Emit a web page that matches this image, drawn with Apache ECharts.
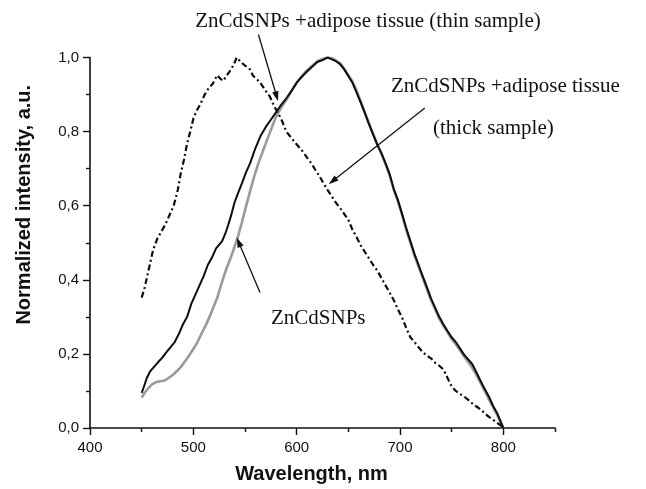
<!DOCTYPE html>
<html>
<head>
<meta charset="utf-8">
<script src="https://cdn.jsdelivr.net/npm/echarts@6/dist/echarts.min.js"></script>
<style>
  html, body { margin: 0; padding: 0; background: #fff; }
  #chart { width: 646px; height: 489px; }
</style>
</head>
<body>
<div id="chart"></div>
<script>
// Axis ticks
const xMajorTicks = [400, 500, 600, 700, 800];
const xMinorTicks = [450, 550, 650, 750, 850];
const yTicks = [0, 0.2, 0.4, 0.6, 0.8, 1.0];

// ZnCdSNPs (grey solid)
const bareWavelength = [450, 453, 456, 460, 464, 468, 472, 476, 480, 484, 488, 492, 496, 500, 504, 508, 512, 516, 520, 523, 526, 529, 532, 536, 540, 543, 547, 551, 555, 559, 563, 567, 571, 575, 580, 585, 590, 595, 600, 605, 610, 615, 620, 625, 630, 634, 638, 642, 646, 650, 654, 658, 662, 666, 670, 674, 678, 682, 686, 690, 694, 698, 702, 706, 710, 714, 718, 722, 726, 730, 734, 738, 742, 746, 750, 754, 758, 762, 766, 770, 774, 778, 782, 786, 790, 794, 797, 800];
const bareIntensity = [0.082, 0.095, 0.106, 0.118, 0.124, 0.126, 0.128, 0.135, 0.143, 0.153, 0.165, 0.180, 0.196, 0.213, 0.232, 0.255, 0.277, 0.302, 0.330, 0.350, 0.378, 0.405, 0.430, 0.458, 0.490, 0.515, 0.555, 0.598, 0.640, 0.680, 0.715, 0.745, 0.775, 0.804, 0.840, 0.865, 0.885, 0.910, 0.932, 0.950, 0.965, 0.978, 0.990, 0.996, 1.000, 0.998, 0.992, 0.984, 0.970, 0.952, 0.935, 0.910, 0.882, 0.852, 0.822, 0.794, 0.766, 0.740, 0.712, 0.682, 0.643, 0.612, 0.575, 0.535, 0.500, 0.465, 0.435, 0.405, 0.375, 0.345, 0.320, 0.295, 0.275, 0.258, 0.240, 0.226, 0.210, 0.193, 0.178, 0.162, 0.143, 0.122, 0.100, 0.078, 0.056, 0.036, 0.018, 0.000];

// ZnCdSNPs + adipose tissue, thin sample (black solid)
const thinWavelength = [450, 452, 455, 458, 462, 466, 470, 474, 478, 482, 486, 490, 494, 498, 502, 506, 510, 514, 518, 522, 526, 528, 531, 534, 537, 540, 543, 547, 551, 555, 560, 565, 570, 575, 580, 585, 590, 595, 600, 605, 610, 615, 620, 625, 630, 634, 638, 642, 646, 650, 654, 658, 662, 666, 670, 674, 678, 682, 686, 690, 694, 698, 702, 706, 710, 714, 718, 722, 726, 730, 734, 738, 742, 746, 750, 754, 758, 762, 766, 770, 774, 778, 782, 786, 790, 794, 797, 800];
const thinIntensity = [0.095, 0.110, 0.135, 0.152, 0.165, 0.178, 0.190, 0.205, 0.218, 0.232, 0.254, 0.280, 0.300, 0.335, 0.360, 0.385, 0.410, 0.440, 0.460, 0.485, 0.498, 0.505, 0.525, 0.550, 0.578, 0.610, 0.632, 0.660, 0.690, 0.715, 0.755, 0.788, 0.812, 0.832, 0.852, 0.872, 0.890, 0.910, 0.932, 0.948, 0.962, 0.975, 0.988, 0.993, 1.000, 0.995, 0.990, 0.982, 0.968, 0.950, 0.932, 0.905, 0.878, 0.850, 0.820, 0.792, 0.765, 0.742, 0.715, 0.685, 0.645, 0.615, 0.578, 0.540, 0.505, 0.470, 0.440, 0.410, 0.380, 0.350, 0.325, 0.300, 0.280, 0.262, 0.245, 0.232, 0.215, 0.198, 0.185, 0.172, 0.150, 0.127, 0.105, 0.085, 0.060, 0.040, 0.020, 0.000];

// ZnCdSNPs + adipose tissue, thick sample (black dash-dot)
const thickWavelength = [450, 453, 457, 461, 465, 469, 473, 477, 481, 485, 488, 491, 494, 497, 500, 503, 507, 511, 515, 519, 523, 526, 529, 532, 535, 539, 542, 546, 550, 554, 558, 562, 566, 570, 574, 578, 582, 586, 590, 594, 598, 602, 606, 610, 614, 618, 622, 626, 630, 634, 638, 642, 646, 650, 654, 658, 662, 666, 670, 674, 678, 682, 686, 690, 694, 698, 702, 706, 710, 714, 718, 722, 726, 730, 734, 738, 742, 746, 750, 754, 758, 762, 766, 770, 774, 778, 782, 786, 790, 794, 798, 800];
const thickIntensity = [0.352, 0.380, 0.430, 0.480, 0.510, 0.530, 0.550, 0.575, 0.600, 0.643, 0.690, 0.725, 0.768, 0.800, 0.835, 0.855, 0.875, 0.900, 0.918, 0.930, 0.952, 0.943, 0.937, 0.950, 0.962, 0.980, 1.000, 0.988, 0.978, 0.972, 0.950, 0.940, 0.927, 0.910, 0.895, 0.870, 0.850, 0.828, 0.800, 0.786, 0.772, 0.759, 0.746, 0.730, 0.715, 0.697, 0.680, 0.660, 0.642, 0.625, 0.608, 0.594, 0.578, 0.562, 0.535, 0.515, 0.493, 0.475, 0.458, 0.440, 0.425, 0.405, 0.385, 0.365, 0.345, 0.320, 0.298, 0.270, 0.245, 0.232, 0.218, 0.205, 0.195, 0.188, 0.176, 0.168, 0.158, 0.135, 0.112, 0.100, 0.092, 0.085, 0.076, 0.066, 0.058, 0.050, 0.040, 0.030, 0.022, 0.014, 0.006, 0.000];

// Annotation arrows: tip on a curve and tail near its caption, in (nm, intensity)
const arrowThin = { tip: [582, 0.882], tail: [563, 1.062] };
const arrowThick = { tip: [631, 0.658], tail: [724, 0.864] };
const arrowBare = { tip: [542, 0.514], tail: [564.5, 0.366] };

const zip = (xs, ys) => xs.map((x, i) => [x, ys[i]]);

const chart = echarts.init(document.getElementById('chart'), null, { renderer: 'canvas' });

const sansFont = '"Liberation Sans", Arial, sans-serif';
const serifFont = '"Liberation Serif", "Times New Roman", serif';
const ink = '#111';

chart.setOption({
  animation: false,
  backgroundColor: '#fff',
  grid: { left: 90, right: 91, top: 57.5, bottom: 59.5, containLabel: false },
  xAxis: [
    {
      type: 'value', min: 400, max: 850, interval: 100, position: 'bottom',
      name: 'Wavelength, nm', nameLocation: 'middle', nameGap: 36,
      nameTextStyle: { fontFamily: sansFont, fontWeight: 'bold', fontSize: 20, color: ink, padding: [0, 22, 0, 0] },
      axisLine: { show: true, onZero: false, lineStyle: { color: ink, width: 1.6 } },
      axisTick: { show: true, inside: false, length: 7, customValues: xMajorTicks, lineStyle: { color: ink, width: 1.4 } },
      axisLabel: { show: true, customValues: xMajorTicks, margin: 12, fontFamily: sansFont, fontSize: 15, color: ink },
      splitLine: { show: false }
    },
    {
      type: 'value', min: 400, max: 850, interval: 50, position: 'bottom',
      axisLine: { show: false, onZero: false },
      axisTick: { show: true, inside: false, length: 4, customValues: xMinorTicks, lineStyle: { color: ink, width: 1.4 } },
      axisLabel: { show: false },
      splitLine: { show: false }
    }
  ],
  yAxis: {
    type: 'value', min: 0, max: 1, interval: 0.2,
    name: 'Normalized intensity, a.u.', nameLocation: 'middle', nameGap: 56,
    nameTextStyle: { fontFamily: sansFont, fontWeight: 'bold', fontSize: 20, color: ink, padding: [0, 0, 0, 76] },
    axisLine: { show: true, onZero: false, lineStyle: { color: ink, width: 1.6 } },
    axisTick: { show: true, inside: false, length: 7, lineStyle: { color: ink, width: 1.4 } },
    minorTick: { show: true, splitNumber: 2, length: 4, lineStyle: { color: ink, width: 1.4 } },
    axisLabel: {
      margin: 11, fontFamily: sansFont, fontSize: 15, color: ink,
      customValues: yTicks,
      formatter: v => v.toFixed(1).replace('.', ',')
    },
    splitLine: { show: false }
  },
  series: [
    {
      name: 'ZnCdSNPs', type: 'line', xAxisIndex: 0, showSymbol: false, z: 2,
      data: zip(bareWavelength, bareIntensity),
      lineStyle: { color: '#9a9a9a', width: 2.6 }
    },
    {
      name: 'ZnCdSNPs +adipose tissue (thin sample)', type: 'line', xAxisIndex: 0, showSymbol: false, z: 3,
      data: zip(thinWavelength, thinIntensity),
      lineStyle: { color: '#0d0d0d', width: 2 }
    },
    {
      name: 'ZnCdSNPs +adipose tissue (thick sample)', type: 'line', xAxisIndex: 0, showSymbol: false, z: 4,
      data: zip(thickWavelength, thickIntensity),
      lineStyle: { color: '#0d0d0d', width: 2.2, type: [6, 3, 2, 3] }
    }
  ]
});

// Arrow from a caption to a curve, placed through the axes
function arrowShapes(a) {
  const p = chart.convertToPixel({ xAxisIndex: 0, yAxisIndex: 0 }, a.tip);
  const q = chart.convertToPixel({ xAxisIndex: 0, yAxisIndex: 0 }, a.tail);
  const dx = p[0] - q[0], dy = p[1] - q[1];
  const len = Math.hypot(dx, dy);
  const ux = dx / len, uy = dy / len;
  const headLen = 10, headHalf = 3.2;
  const bx = p[0] - ux * headLen, by = p[1] - uy * headLen;
  return [
    { type: 'line', silent: true, z: 20,
      shape: { x1: q[0], y1: q[1], x2: bx + ux * 2, y2: by + uy * 2 },
      style: { stroke: ink, lineWidth: 1.3 } },
    { type: 'polygon', silent: true, z: 20,
      shape: { points: [[p[0], p[1]], [bx - uy * headHalf, by + ux * headHalf], [bx + uy * headHalf, by - ux * headHalf]] },
      style: { fill: ink } }
  ];
}

const caption = (text, x, y, align) => ({
  type: 'text', silent: true, z: 20, x: x, y: y,
  style: { text: text, fill: ink, font: '21px ' + serifFont, textAlign: align, textVerticalAlign: 'middle' }
});

chart.setOption({
  graphic: [
    caption('ZnCdSNPs +adipose tissue (thin sample)', 368, 21.5, 'center'),
    caption('ZnCdSNPs +adipose tissue', 391, 86, 'left'),
    caption('(thick sample)', 433, 128, 'left'),
    caption('ZnCdSNPs', 271, 318, 'left'),
    ...arrowShapes(arrowThin),
    ...arrowShapes(arrowThick),
    ...arrowShapes(arrowBare)
  ]
});
</script>
</body>
</html>
